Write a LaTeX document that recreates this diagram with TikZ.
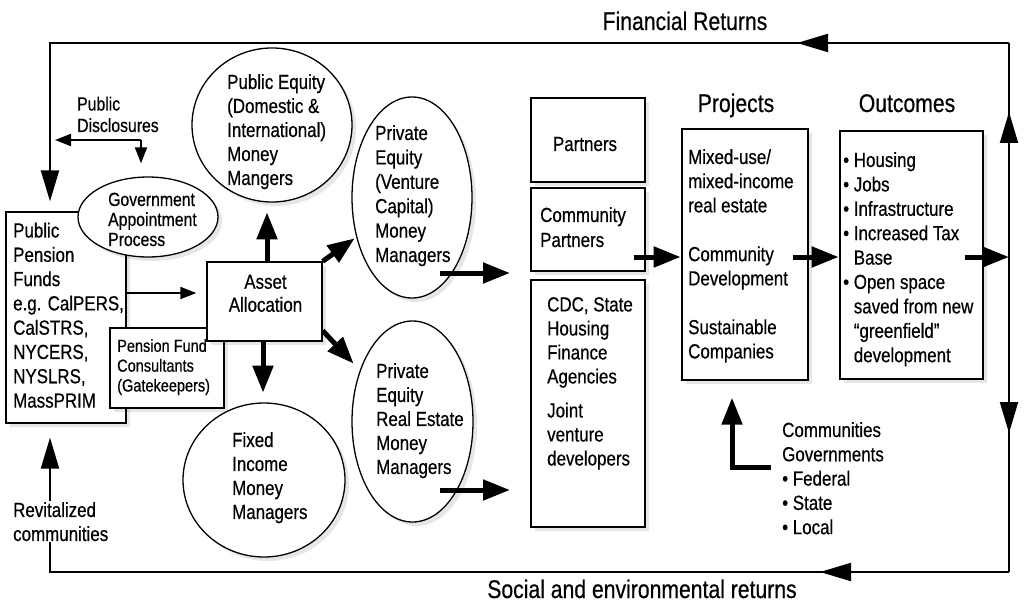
\documentclass[tikz,border=0pt]{standalone}
\usepackage{fontspec}
\setmainfont{Liberation Sans}[FakeStretch=0.83,FakeBold=0.5]
\usetikzlibrary{arrows.meta,shapes.geometric,shadows,calc}
\begin{document}
\begin{tikzpicture}[x=1pt,y=-1pt,
  shad/.style={drop shadow={shadow xshift=4pt,shadow yshift=-4pt,opacity=0.14,fill=black!70}},
  box/.style={draw,line width=1.3pt,fill=white,inner sep=0pt,shad},
  oval/.style={ellipse,draw,line width=1.3pt,fill=white,inner sep=0pt,shad},
  txt/.style={inner sep=0pt,anchor=north west,align=left,font=\fontsize{20.4}{24.3}\selectfont},
  head/.style={inner sep=0pt,anchor=base,font=\fontsize{25.5}{30}\selectfont},
  loopline/.style={line width=2pt},
  looptip/.style={-{Triangle[length=31pt,width=18pt]}},
  thinarrow/.style={line width=1.8pt,-{Triangle[length=16pt,width=12pt]}},
  thickarrow/.style={line width=5pt,-{Triangle[length=27pt,width=20pt]}}
]
\useasboundingbox (0,0) rectangle (1032,604);

% ---------- boxes and ovals ----------
\node[box,minimum width=120pt,minimum height=211pt] (pension) at (66,317.5) {};
\node[oval,minimum width=140pt,minimum height=80pt] (gov) at (148,217) {};
\node[box,minimum width=114pt,minimum height=80pt] (consult) at (167,368) {};
\node[box,minimum width=115pt,minimum height=79pt] (asset) at (264.5,301.5) {};
\node[oval,minimum width=160pt,minimum height=154pt] (pubeq) at (272,125) {};
\node[oval,minimum width=120pt,minimum height=201pt] (vc) at (412,197.5) {};
\node[oval,minimum width=162pt,minimum height=154pt] (fixed) at (264,480) {};
\node[oval,minimum width=121pt,minimum height=201pt] (re) at (412.5,421.5) {};
\node[box,minimum width=114pt,minimum height=84pt] (partners) at (588,140) {};
\node[box,minimum width=114pt,minimum height=83pt] (commp) at (588,229.5) {};
\node[box,minimum width=114pt,minimum height=247pt] (cdc) at (588,403.5) {};
\node[box,minimum width=126pt,minimum height=251pt] (projects) at (745,254.5) {};
\node[box,minimum width=143pt,minimum height=248pt] (outcomes) at (911.5,255) {};

% ---------- texts ----------
\node[txt] (pensiontxt) at (13,222.5) {Public\\Pension\\Funds\\e.g. CalPERS,\\CalSTRS,\\NYCERS,\\NYSLRS,\\MassPRIM};
\node[txt,font=\fontsize{19}{21.5}\selectfont] (disctxt) at (77,96.5) {Public\\Disclosures};
\node[txt,font=\fontsize{19}{20}\selectfont] (govtxt) at (108,192.5) {Government\\Appointment\\Process};
\node[txt,font=\fontsize{17.5}{19.8}\selectfont] (consulttxt) at (117,339) {Pension Fund\\Consultants\\(Gatekeepers)};
\node[txt,anchor=north,align=center,font=\fontsize{20.4}{23}\selectfont] (assettxt) at (265.5,274.5) {Asset\\Allocation};
\node[txt,font=\fontsize{20.4}{24}\selectfont] (pubeqtxt) at (227,74) {Public Equity\\(Domestic \&\\International)\\Money\\Mangers};
\node[txt,font=\fontsize{20.4}{24.4}\selectfont] (vctxt) at (375,125) {Private\\Equity\\(Venture\\Capital)\\Money\\Managers};
\node[txt,font=\fontsize{20.4}{24}\selectfont] (fixedtxt) at (232,432) {Fixed\\Income\\Money\\Managers};
\node[txt,font=\fontsize{20.4}{24}\selectfont] (retxt) at (376,363) {Private\\Equity\\Real Estate\\Money\\Managers};
\node[head,font=\fontsize{20.4}{24}\selectfont] (partnerstxt) at (585,151) {Partners};
\node[txt,font=\fontsize{20.4}{25}\selectfont] (commptxt) at (540,207) {Community\\Partners};
\node[txt,font=\fontsize{20.4}{24}\selectfont] (cdctxt) at (547,297) {CDC, State\\Housing\\Finance\\Agencies\\[10pt]Joint\\venture\\developers};
\node[txt,font=\fontsize{20.4}{24.2}\selectfont] (projtxt) at (688,149) {Mixed-use/\\mixed-income\\real estate\\[24.6pt]Community\\Development\\[24.6pt]Sustainable\\Companies};
\node[txt,font=\fontsize{20.4}{24.4}\selectfont] (outctxt) at (843,152) {\textbullet\ Housing\\\textbullet\ Jobs\\\textbullet\ Infrastructure\\\textbullet\ Increased Tax\\\hphantom{\textbullet\ }Base\\\textbullet\ Open space\\\hphantom{\textbullet\ }saved from new\\\hphantom{\textbullet\ }“greenfield”\\\hphantom{\textbullet\ }development};
\node[txt,font=\fontsize{20.4}{24.3}\selectfont] (commgov) at (782,422) {Communities\\Governments\\\textbullet\ Federal\\\textbullet\ State\\\textbullet\ Local};
\node[head] (projhead) at (736,112) {Projects};
\node[head] (outchead) at (907,112) {Outcomes};
\node[head] (finret) at (685,30) {Financial Returns};
\node[head] (socret) at (642,598) {Social and environmental returns};

% ---------- outer loop ----------
\coordinate (tl) at (50,43);
\coordinate (tr) at (1009,43);
\coordinate (br) at (1009,572);
\coordinate (bl) at (50,572);
\coordinate (rmid) at (1009,257);
\draw[loopline] (tr) -- (br);
\draw[loopline,looptip] (tr) -- (tl) -- ($(tl |- pension.north)+(0,-10)$);
\draw[loopline,looptip] (tr) -- ++(-212,0);
\draw[loopline,looptip] (br) -- (bl) -- ($(bl |- pension.south)+(0,14)$);
\draw[loopline,looptip] (br) -- ++(-189,0);
\draw[loopline,looptip] (rmid) -- ++(0,-145);
\draw[loopline,looptip] (rmid) -- ++(0,176);
\node[txt,fill=white,inner sep=1pt,font=\fontsize{20.4}{24}\selectfont] (revit) at (12,501) {Revitalized\\communities};

% ---------- public disclosures ----------
\coordinate (pdc) at (141,140);
\coordinate (pdl) at (55,140);
\draw[thinarrow] (pdc) -- (pdl);
\draw[thinarrow] (pdc) -- ($(pdc |- gov.north)+(0,-13)$);

% ---------- flows ----------
\draw[thinarrow] ($(pension.east)+(0,-24.5)$) -- ($(asset.west)+(-10,-8.5)$);
\draw[thickarrow] ($(asset.north)+(2.5,0)$) -- ++(0,-49);
\draw[thickarrow] ($(asset.south)+(-1.5,0)$) -- ++(0,51);
\draw[thickarrow] (asset.north east) -- ++(32,-23);
\draw[thickarrow] ($(asset.south east)+(0,-11)$) -- ++(31,33);
\draw[thickarrow] ($(vc.center)+(28,75.5)$) -- ++(70,0);
\draw[thickarrow] ($(re.center)+(27.5,68.5)$) -- ++(70,0);
\draw[thickarrow] ($(commp.east)+(-12,27.5)$) -- ++(47,0);
\draw[thickarrow] ($(projects.east)+(-16,2.5)$) -- ++(46,0);
\draw[thickarrow] ($(outcomes.east)+(-19,2)$) -- (rmid);
\draw[thickarrow] ($(commgov.north west)+(-11,45)$) -| ($(projects.south)+(-13,17)$);
\end{tikzpicture}
\end{document}
